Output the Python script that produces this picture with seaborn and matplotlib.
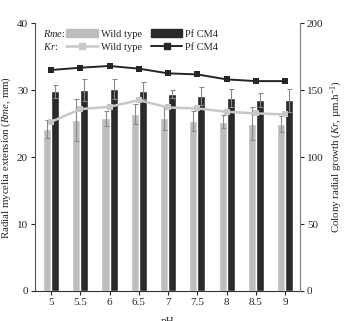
import numpy as np
import pandas as pd
import matplotlib
matplotlib.use("Agg")
import matplotlib.pyplot as plt
import seaborn as sns
from matplotlib.patches import Patch
from matplotlib.lines import Line2D

ph = ["5", "5.5", "6", "6.5", "7", "7.5", "8", "8.5", "9"]
rme_wild = [24.2, 25.5, 25.8, 26.4, 25.8, 25.4, 25.3, 25.0, 25.0]
rme_wild_err = [1.3, 3.1, 1.1, 1.5, 1.8, 1.5, 1.0, 2.4, 1.2]
rme_pf = [29.8, 30.0, 30.1, 29.9, 29.4, 29.1, 28.8, 28.5, 28.5]
rme_pf_err = [1.0, 1.7, 1.5, 1.3, 0.6, 1.3, 1.4, 1.1, 1.7]
kr_wild = [126.3, 135.8, 137.5, 142.5, 137.0, 136.3, 133.8, 132.6, 131.8]
kr_pf = [165.0, 166.7, 168.0, 166.0, 162.5, 161.7, 158.0, 156.7, 156.7]

strains = ["Wild type", "Pf CM4"]
bar_colors = ["#bdbdbd", "#2a2a2a"]
line_colors = ["#c8c8c8", "#262626"]

sns.set_style("white")
plt.rcParams["font.family"] = ["Liberation Serif", "DejaVu Serif"]
plt.rcParams["mathtext.fontset"] = "custom"
plt.rcParams["mathtext.it"] = "Liberation Serif:italic"
plt.rcParams["mathtext.rm"] = "Liberation Serif"

df = pd.DataFrame({
    "pH": ph * 2,
    "Rme": rme_wild + rme_pf,
    "err": rme_wild_err + rme_pf_err,
    "strain": [strains[0]] * len(ph) + [strains[1]] * len(ph),
})

fig = plt.figure(figsize=(3.46, 3.21), dpi=100)
ax = fig.add_axes([0.101, 0.0935, 0.766, 0.8345])

sns.barplot(data=df, x="pH", y="Rme", hue="strain", palette=bar_colors,
            width=0.55, errorbar=None, ax=ax, legend=False, saturation=1)

# error bars on bars
patches = [p for p in ax.patches if p.get_height() > 0]
n = len(ph)
for i, p in enumerate(patches[:2 * n]):
    xc = p.get_x() + p.get_width() / 2
    h = p.get_height()
    e = df["err"].iloc[i]
    ax.errorbar(xc, h, yerr=e, color="#8a8a8a", capsize=1.8, elinewidth=0.8,
                capthick=0.8, fmt="none", zorder=3)

ax.set_ylim(0, 40)
ax.set_xlim(-0.55, len(ph) - 1 + 0.51)
ax.set_yticks([0, 10, 20, 30, 40])
ax.set_ylabel(r"Radial mycelia extension ($\it{Rme}$, mm)", fontsize=7.8, labelpad=3)
ax.set_xlabel("pH", fontsize=8, labelpad=7)
ax.tick_params(axis="both", labelsize=8, length=3, width=0.8, direction="out",
               left=True, bottom=True, pad=2)

ax2 = ax.twinx()
kdf = pd.DataFrame({"x": list(range(n)) * 2, "Kr": kr_wild + kr_pf,
                    "strain": [strains[0]] * n + [strains[1]] * n})
sns.lineplot(data=kdf, x="x", y="Kr", hue="strain", palette=line_colors,
             marker="s", markersize=4, markeredgewidth=0, ax=ax2, legend=False)
for ln, lw in zip(ax2.lines, [1.8, 1.4]):
    ln.set_linewidth(lw)
ax2.set_ylim(0, 200)
ax2.set_yticks([0, 50, 100, 150, 200])
ax2.set_ylabel(r"Colony radial growth ($\it{Kr}$, µm.h$^{-1}$)", fontsize=7.8, labelpad=4)
ax2.tick_params(axis="y", labelsize=8, length=3, width=0.8, direction="out", right=True, pad=2)
ax2.set_xlim(ax.get_xlim())

for a in (ax, ax2):
    a.spines["top"].set_visible(False)
ax.spines["left"].set_color("#555555")
ax.spines["bottom"].set_color("#333333")
ax2.spines["right"].set_color("#888888")
ax2.spines["left"].set_visible(False)
ax2.spines["bottom"].set_visible(False)

handles = [Patch(color=bar_colors[0]), Line2D([], [], color=line_colors[0], lw=1.8, marker="s", ms=4),
           Patch(color=bar_colors[1]), Line2D([], [], color=line_colors[1], lw=1.4, marker="s", ms=4)]
labels = ["Wild type", "Wild type", "Pf CM4", "Pf CM4"]
leg = ax.legend(handles, labels, ncol=2, frameon=False, fontsize=7.5,
                loc="upper left", bbox_to_anchor=(0.095, 1.0), handlelength=3.0,
                handletextpad=0.3, columnspacing=0.9, labelspacing=0.4,
                borderaxespad=0.2)
ax.text(0.03, 0.963, r"$\it{Rme}$:", transform=ax.transAxes, fontsize=7.5, va="center")
ax.text(0.03, 0.914, r"$\it{Kr}$:", transform=ax.transAxes, fontsize=7.5, va="center")

fig.savefig("out.png", dpi=100)
